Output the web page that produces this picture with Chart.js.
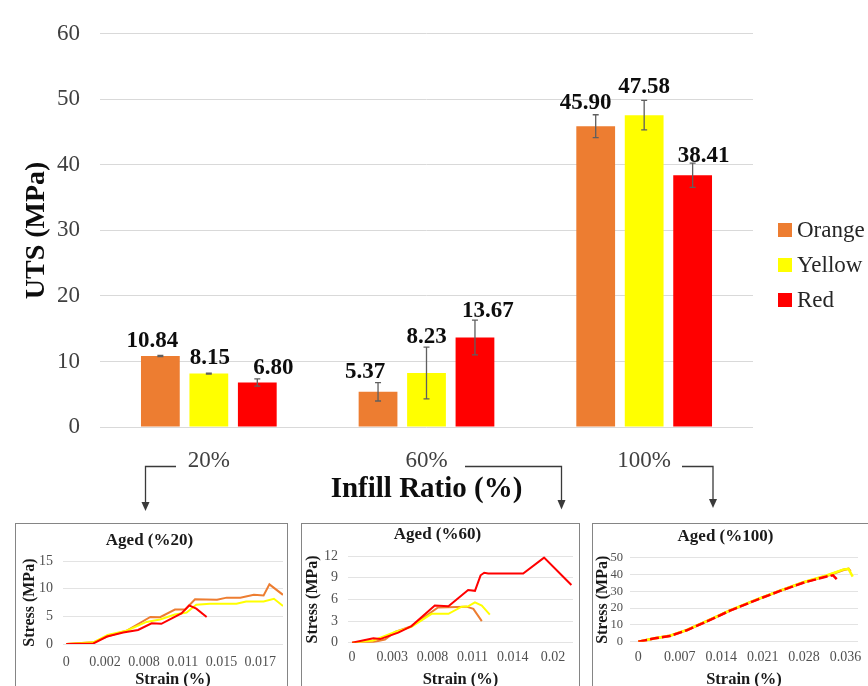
<!DOCTYPE html>
<html>
<head>
<meta charset="utf-8">
<script src="https://cdn.jsdelivr.net/npm/chart.js@4.4.1/dist/chart.umd.min.js"></script>
<style>
  html, body { margin: 0; padding: 0; background: #fff; }
  body { width: 868px; height: 686px; overflow: hidden; position: relative;
         font-family: "Liberation Serif", "Times New Roman", serif; }
  canvas { position: absolute; }
  .box { position: absolute; top: 523px; height: 200px; border: 1.5px solid #858585;
         box-sizing: border-box; background: #fff; }
  #legend { position: absolute; left: 778px; top: 0; }
  .item { position: absolute; left: 0; height: 28px; display: flex; align-items: center;
          white-space: nowrap; font-size: 23px; color: #262626; }
  .swatch { width: 14px; height: 14px; margin-right: 5px; }
  svg { position: absolute; left: 0; top: 0; }
</style>
</head>
<body>
<div class="box" style="left:15px;width:273px"></div>
<div class="box" style="left:301px;width:279px"></div>
<div class="box" style="left:592px;width:290px"></div>

<canvas id="main" width="868" height="515" style="left:0;top:0"></canvas>
<canvas id="aged20" width="271" height="170" style="left:16px;top:524px"></canvas>
<canvas id="aged60" width="278" height="170" style="left:302px;top:524px"></canvas>
<canvas id="aged100" width="290" height="170" style="left:593px;top:524px"></canvas>
<div id="legend"></div>

<svg width="868" height="686">
  <g stroke="#3a3a3a" stroke-width="1.3" fill="none">
    <polyline points="176,466.5 145.5,466.5 145.5,503"/>
    <polyline points="465,466.5 561.5,466.5 561.5,501"/>
    <polyline points="682,466.5 713,466.5 713,500"/>
  </g>
  <g fill="#3a3a3a">
    <polygon points="141.5,502 149.5,502 145.5,511"/>
    <polygon points="557.5,500 565.5,500 561.5,509.5"/>
    <polygon points="709,499 717,499 713,508"/>
  </g>
</svg>

<script>
// ---- Ultimate tensile strength by infill ratio ----
const infill = ['20%', '60%', '100%'];
const seriesNames = ['Orange', 'Yellow', 'Red'];
const utsOrange = [10.84, 5.37, 45.90];
const utsYellow = [8.15, 8.23, 47.58];
const utsRed = [6.80, 13.67, 38.41];
const errOrange = [0.08, 1.4, 1.75];
const errYellow = [0.08, 3.95, 2.25];
const errRed = [0.55, 2.65, 1.85];
const utsTicks = [0, 10, 20, 30, 40, 50, 60];

// ---- Aged stress-strain curves (x = sample number along the strain axis) ----
const strainTicks20 = ['0', '0.002', '0.008', '0.011', '0.015', '0.017'];
const stressTicks20 = [0, 5, 10, 15];
const orange20Sample = [0, 4.2, 6.3, 9.3, 13, 14.5, 16.8, 18.4, 19.9, 23.3, 24.8, 26.9, 29, 30.5, 31.4, 33.5];
const orange20Stress = [0, 0.3, 1.35, 2.4, 4.9, 4.85, 6.25, 6.25, 8.1, 8.0, 8.4, 8.4, 8.9, 8.8, 10.8, 8.9];
const yellow20Sample = [0, 4.2, 6.4, 9.3, 12.4, 14.5, 16.8, 18.6, 20.1, 22.2, 26.3, 27.8, 30.5, 32.1, 33.5];
const yellow20Stress = [0, 0.3, 1.65, 2.4, 4.0, 4.45, 5.35, 5.7, 7.1, 7.3, 7.3, 7.7, 7.7, 8.2, 6.9];
const red20Sample = [0, 4.2, 6.3, 8.8, 11.1, 13.2, 14.7, 17.8, 19.0, 20.1, 21.7];
const red20Stress = [0, 0.1, 1.35, 2.1, 2.55, 3.75, 3.65, 5.55, 7.0, 6.4, 4.9];

const strainTicks60 = ['0', '0.003', '0.008', '0.011', '0.014', '0.02'];
const stressTicks60 = [0, 3, 6, 9, 12];
const orange60Sample = [0, 2.65, 4.1, 5.35, 7.4, 10.7, 14.25, 15.1, 16.15];
const orange60Stress = [0, 0.1, 0.45, 1.5, 2.3, 4.9, 5.0, 4.7, 3.0];
const yellow60Sample = [0, 2.65, 5.35, 7.4, 9.9, 12.0, 13.65, 14.45, 15.3, 16.15, 17.15];
const yellow60Stress = [0, 0.3, 1.5, 2.2, 4.0, 4.0, 5.0, 5.05, 5.6, 5.15, 3.9];
const red60Sample = [0, 2.65, 3.5, 5.75, 7.4, 10.3, 12.0, 14.45, 15.3, 16.0, 16.45, 16.95, 21.3, 23.9, 27.3];
const red60Stress = [0, 0.6, 0.5, 1.4, 2.3, 5.15, 5.05, 7.3, 7.2, 9.35, 9.7, 9.6, 9.6, 11.8, 8.0];

const strainTicks100 = ['0', '0.007', '0.014', '0.021', '0.028', '0.036'];
const stressTicks100 = [0, 10, 20, 30, 40, 50];
const orange100Sample = [0, 2, 3.8, 5.85, 8.25, 11.05, 14.3, 17.1, 19.9, 22.7, 24.7, 25.35, 25.6];
const orange100Stress = [0, 2.0, 3.5, 6.9, 12.2, 18.6, 25.1, 30.4, 35.3, 39.2, 42.8, 43.5, 42.0];
const yellow100Sample = [0, 2, 3.8, 5.85, 8.25, 11.05, 14.3, 17.1, 19.9, 22.7, 24.7, 25.35, 25.86];
const yellow100Stress = [0, 2.1, 3.6, 7.0, 12.3, 18.7, 25.2, 30.5, 35.5, 39.5, 43.0, 43.5, 38.8];
const red100Sample = [0, 2, 3.8, 5.85, 8.25, 11.05, 14.3, 17.1, 19.9, 22.73, 23.49, 23.93];
const red100Stress = [0, 2.0, 3.4, 6.8, 12.1, 18.5, 25.0, 30.3, 35.2, 38.9, 39.6, 37.3];

// ---- styling ----
const COLORS = { Orange: '#ED7D31', Yellow: '#FFFF00', Red: '#FF0000' };
const SERIF = '"Liberation Serif", "Times New Roman", serif';
// hand-placed value labels: horizontal nudge and gap above the error bar, per series
const labelDx = [[-8, -13, -10], [1, 0, 0], [16, 13, 11]];
const labelDy = [[-8, -5, -6], [-9, -4, -7], [-5, -3, -1]];

const errs = [errOrange, errYellow, errRed];

const errorBarsAndLabels = {
  id: 'errorBarsAndLabels',
  afterDatasetsDraw(chart) {
    const { ctx } = chart;
    const y = chart.scales.y;
    chart.data.datasets.forEach((ds, i) => {
      const meta = chart.getDatasetMeta(i);
      meta.data.forEach((bar, j) => {
        const v = ds.data[j], e = errs[i][j];
        const top = y.getPixelForValue(v + e), bot = y.getPixelForValue(v - e);
        ctx.save();
        ctx.strokeStyle = '#5f5f5f';
        ctx.lineWidth = 1.3;
        ctx.beginPath();
        ctx.moveTo(bar.x, top); ctx.lineTo(bar.x, bot);
        ctx.moveTo(bar.x - 3, top); ctx.lineTo(bar.x + 3, top);
        ctx.moveTo(bar.x - 3, bot); ctx.lineTo(bar.x + 3, bot);
        ctx.stroke();
        ctx.fillStyle = '#0d0d0d';
        ctx.font = 'bold 23px ' + SERIF;
        ctx.textAlign = 'center';
        ctx.textBaseline = 'alphabetic';
        ctx.fillText(v.toFixed(2), bar.x + labelDx[i][j], top + labelDy[i][j]);
        ctx.restore();
      });
    });
  }
};

new Chart(document.getElementById('main'), {
  type: 'bar',
  data: {
    labels: infill,
    datasets: [
      { label: seriesNames[0], data: utsOrange, backgroundColor: COLORS.Orange },
      { label: seriesNames[1], data: utsYellow, backgroundColor: COLORS.Yellow },
      { label: seriesNames[2], data: utsRed, backgroundColor: COLORS.Red }
    ]
  },
  options: {
    responsive: false,
    animation: false,
    layout: { padding: { top: 27, right: 115, left: 0, bottom: 0 } },
    datasets: { bar: { barPercentage: 0.8, categoryPercentage: 0.668 } },
    plugins: { legend: { display: false }, tooltip: { enabled: false } },
    scales: {
      x: {
        grid: { display: false, drawTicks: false },
        border: { display: false },
        ticks: { font: { family: SERIF, size: 23 }, color: '#404040', padding: 20 },
        title: { display: true, text: 'Infill Ratio (%)', color: '#0d0d0d',
                 font: { family: SERIF, size: 29, weight: 'bold' }, padding: { bottom: 7.6, top: 0 } },
        afterFit: s => { s.height = 88; }
      },
      y: {
        min: 0, max: 60,
        grid: { color: '#d9d9d9', drawTicks: false },
        border: { display: false },
        afterBuildTicks: s => { s.ticks = utsTicks.map(v => ({ value: v })); },
        ticks: { autoSkip: false, font: { family: SERIF, size: 23 }, color: '#404040', padding: 20 },
        title: { display: true, text: 'UTS (MPa)', color: '#0d0d0d',
                 font: { family: SERIF, size: 28, weight: 'bold' }, padding: { top: 20, bottom: 0 } },
        afterFit: s => { s.width = 100; }
      }
    }
  },
  plugins: [errorBarsAndLabels]
});

// legend
const legend = document.getElementById('legend');
seriesNames.forEach((name, k) => {
  const it = document.createElement('div');
  it.className = 'item';
  it.style.top = (216 + 35 * k) + 'px';
  const sw = document.createElement('span');
  sw.className = 'swatch';
  sw.style.background = COLORS[name];
  it.appendChild(sw);
  it.appendChild(document.createTextNode(name));
  legend.appendChild(it);
});

function pts(xs, ys) { return xs.map((x, k) => ({ x, y: ys[k] })); }

function inset(id, g) {
  const tickIdx = g.xLabels.map((_, k) => k * g.every);
  new Chart(document.getElementById(id), {
    type: 'line',
    data: {
      datasets: [
        { label: 'Red', data: pts(g.red[0], g.red[1]), borderColor: COLORS.Red, order: 0,
          borderDash: g.dash || [] },
        { label: 'Yellow', data: pts(g.yellow[0], g.yellow[1]), borderColor: COLORS.Yellow, order: 1 },
        { label: 'Orange', data: pts(g.orange[0], g.orange[1]), borderColor: COLORS.Orange, order: 2 }
      ]
    },
    options: {
      responsive: false,
      animation: false,
      layout: { padding: { top: 0, left: 0, bottom: 0, right: g.padRight } },
      elements: { point: { radius: 0 }, line: { borderWidth: g.lw, tension: 0 } },
      plugins: {
        legend: { display: false }, tooltip: { enabled: false },
        title: { display: true, text: g.title, color: '#1a1a1a',
                 font: { family: SERIF, size: 17, weight: 'bold' },
                 padding: { top: g.titleTop, bottom: g.titleBottom } }
      },
      scales: {
        x: {
          type: 'linear', min: g.xMin, max: g.xMax,
          grid: { display: false, drawTicks: false },
          border: { display: false },
          afterBuildTicks: s => { s.ticks = tickIdx.map(v => ({ value: v })); },
          ticks: { autoSkip: false, maxRotation: 0, color: '#505050', padding: g.xPad,
                   font: { family: SERIF, size: 14 },
                   callback: v => g.xLabels[tickIdx.indexOf(v)] },
          title: { display: true, text: 'Strain (%)', color: '#1a1a1a',
                   font: { family: SERIF, size: 16.5, weight: 'bold' }, padding: { top: 0, bottom: 4 } },
          afterFit: s => { s.height = g.xHeight; }
        },
        y: {
          min: 0, max: g.yMax,
          grid: { color: '#e3e3e3', drawTicks: false },
          border: { display: false },
          afterBuildTicks: s => { s.ticks = g.yTicks.map(v => ({ value: v })); },
          ticks: { autoSkip: false, color: '#505050', padding: g.yPad,
                   font: { family: SERIF, size: g.yFont } },
          title: { display: true, text: 'Stress (MPa)', color: '#1a1a1a',
                   font: { family: SERIF, size: 16, weight: 'bold' }, padding: { top: g.yTitle, bottom: 0 } },
          afterFit: s => { s.width = g.yWidth; }
        }
      }
    }
  });
}

inset('aged20', {
  title: 'Aged (%20)', titleTop: 6, titleBottom: 10.8, padRight: 4, lw: 2,
  xMin: -0.5, xMax: 33.5, every: 6, xLabels: strainTicks20, xPad: 9.6, xHeight: 50,
  yMax: 15, yTicks: stressTicks20, yPad: 10, yFont: 14, yTitle: 4.4, yWidth: 47,
  orange: [orange20Sample, orange20Stress], yellow: [yellow20Sample, yellow20Stress], red: [red20Sample, red20Stress]
});
inset('aged60', {
  title: 'Aged (%60)', titleTop: 0, titleBottom: 11.8, padRight: 7, lw: 2,
  xMin: -0.5, xMax: 27.5, every: 5, xLabels: strainTicks60, xPad: 5.9, xHeight: 51.3,
  yMax: 12, yTicks: stressTicks60, yPad: 10, yFont: 14, yTitle: 1.4, yWidth: 46,
  orange: [orange60Sample, orange60Stress], yellow: [yellow60Sample, yellow60Stress], red: [red60Sample, red60Stress]
});
inset('aged100', {
  title: 'Aged (%100)', titleTop: 2.4, titleBottom: 11.1, padRight: 25, lw: 2.5, dash: [9, 3],
  xMin: -1, xMax: 26.5, every: 5, xLabels: strainTicks100, xPad: 6.9, xHeight: 52.3,
  yMax: 50, yTicks: stressTicks100, yPad: 7, yFont: 12.5, yTitle: 0, yWidth: 37,
  orange: [orange100Sample, orange100Stress], yellow: [yellow100Sample, yellow100Stress], red: [red100Sample, red100Stress]
});
</script>
</body>
</html>
